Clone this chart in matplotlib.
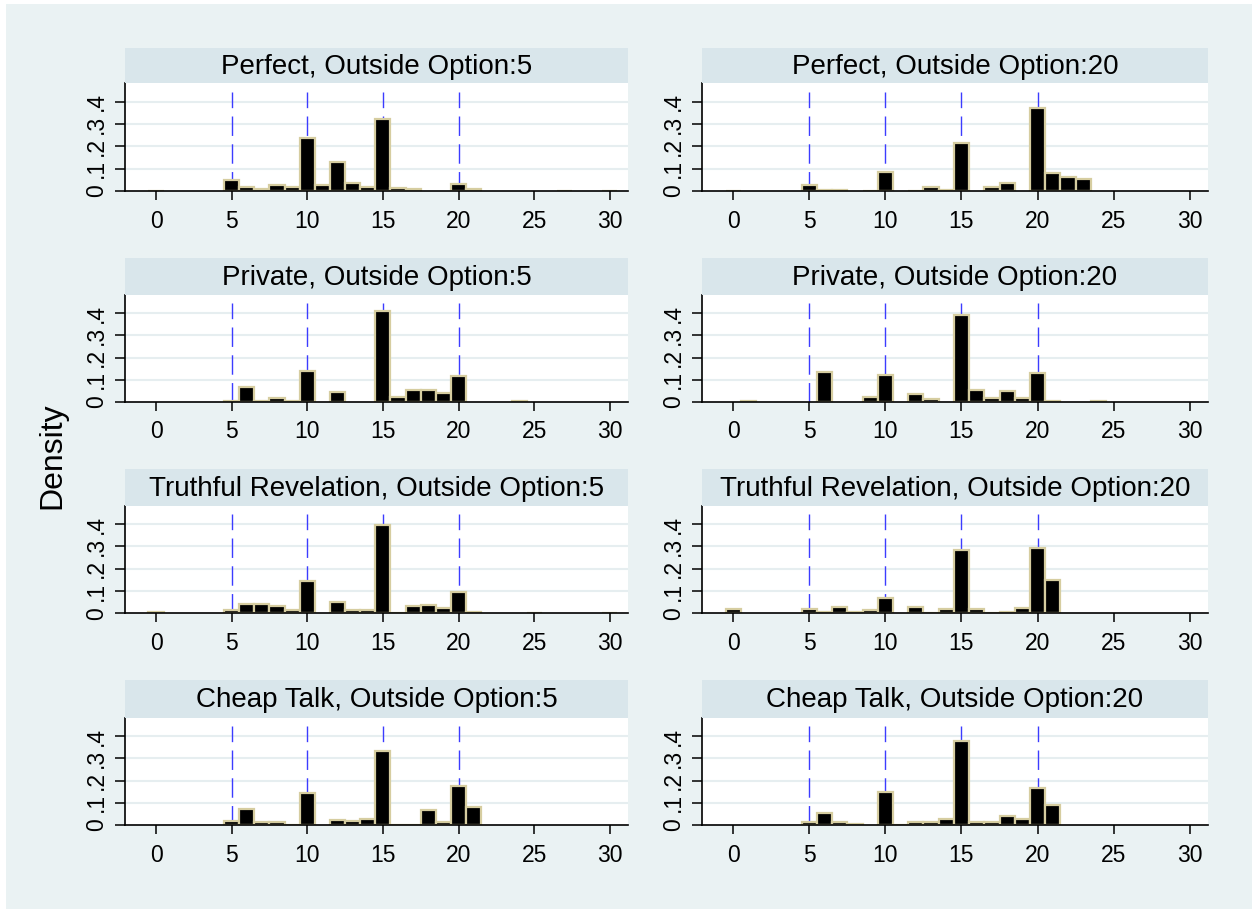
import matplotlib.pyplot as plt
import matplotlib.patches as mpatches
import numpy as np

plt.rcParams['font.family'] = ['Liberation Sans', 'DejaVu Sans']
plt.rcParams['lines.scale_dashes'] = False

# значения 0..30 (ширина бина = 1)
values = np.arange(31)

perfect_5 = [0.002, 0, 0, 0, 0, 0.048, 0.019, 0.007, 0.027, 0.019, 0.239, 0.027, 0.128, 0.037, 0.019,
             0.325, 0.015, 0.007, 0, 0, 0.030, 0.007, 0, 0, 0, 0, 0, 0.002, 0, 0, 0.002]
perfect_20 = [0.002, 0, 0, 0, 0, 0.025, 0.003, 0.003, 0, 0.002, 0.087, 0, 0.002, 0.018, 0.005,
              0.215, 0, 0.018, 0.034, 0, 0.372, 0.081, 0.061, 0.054, 0, 0, 0, 0, 0, 0, 0]
private_5 = [0, 0, 0, 0, 0, 0.005, 0.065, 0.005, 0.017, 0.005, 0.141, 0, 0.044, 0, 0,
             0.412, 0.023, 0.052, 0.052, 0.038, 0.115, 0, 0, 0, 0.004, 0, 0, 0, 0, 0, 0]
private_20 = [0, 0.003, 0, 0, 0, 0, 0.136, 0, 0, 0.021, 0.120, 0, 0.033, 0.014, 0,
              0.391, 0.052, 0.017, 0.047, 0.018, 0.129, 0.005, 0, 0, 0.003, 0, 0, 0, 0, 0, 0]
truthful_5 = [0.006, 0, 0, 0, 0, 0.016, 0.043, 0.043, 0.031, 0.013, 0.145, 0, 0.049, 0.016, 0.016,
              0.395, 0.003, 0.031, 0.036, 0.022, 0.097, 0.004, 0, 0, 0, 0.002, 0, 0, 0, 0, 0.002]
truthful_20 = [0.018, 0, 0, 0, 0, 0.018, 0.005, 0.027, 0.005, 0.016, 0.070, 0, 0.027, 0.002, 0.018,
               0.284, 0.018, 0.002, 0.005, 0.025, 0.291, 0.148, 0, 0, 0, 0, 0, 0, 0, 0, 0]
cheap_5 = [0, 0, 0, 0, 0, 0.016, 0.073, 0.015, 0.015, 0.002, 0.145, 0, 0.021, 0.016, 0.026,
           0.333, 0.002, 0.002, 0.067, 0.014, 0.174, 0.079, 0, 0, 0, 0, 0, 0, 0, 0, 0]
cheap_20 = [0, 0, 0, 0, 0, 0.015, 0.055, 0.014, 0.003, 0, 0.149, 0.002, 0.012, 0.015, 0.026,
            0.377, 0.015, 0.012, 0.040, 0.026, 0.166, 0.091, 0, 0, 0, 0, 0, 0, 0, 0, 0]

panels = [
    ('Perfect, Outside Option:5', perfect_5), ('Perfect, Outside Option:20', perfect_20),
    ('Private, Outside Option:5', private_5), ('Private, Outside Option:20', private_20),
    ('Truthful Revelation, Outside Option:5', truthful_5), ('Truthful Revelation, Outside Option:20', truthful_20),
    ('Cheap Talk, Outside Option:5', cheap_5), ('Cheap Talk, Outside Option:20', cheap_20),
]

xlines = [5, 10, 15, 20]
xticks = [0, 5, 10, 15, 20, 25, 30]
yticks = [0, 0.1, 0.2, 0.3, 0.4]
ytick_labels = ['0', '.1', '.2', '.3', '.4']

W, H = 1252, 909
bg = '#eaf2f3'
strip_color = '#d9e6eb'
bar_edge = '#d6cda0'
line_blue = '#3c3cff'

fig = plt.figure(figsize=(W / 100, H / 100), dpi=100, facecolor='white')
fig.patches.append(mpatches.Rectangle((6 / W, 0), 1, 1 - 4 / H, transform=fig.transFigure,
                                      facecolor=bg, edgecolor='none', zorder=-10))

# положение панелей в пикселях
col_x = [(125, 503), (702, 506)]
row_y = [(48.3, 83.3, 191), (257.7, 295, 401.7), (469, 505.7, 613.3), (680, 717.7, 825)]

for i, (title, dens) in enumerate(panels):
    r, c = divmod(i, 2)
    x0, w = col_x[c]
    s_top, p_top, p_bot = row_y[r]

    ax = fig.add_axes([x0 / W, 1 - p_bot / H, w / W, (p_bot - p_top) / H])
    ax.set_facecolor('white')

    dens = np.array(dens)
    mask = dens > 0
    ax.bar(values[mask], dens[mask], width=1, color='black', edgecolor=bar_edge,
           linewidth=1.6, zorder=3)
    for xv in xlines:
        ax.plot([xv, xv], [0, 0.445], color=line_blue, linewidth=1.0,
                dashes=(14, 6), zorder=2)

    ax.set_xlim(-2.05, 31.2)
    ax.set_ylim(0, 0.483)
    ax.set_xticks(xticks)
    ax.set_yticks(yticks)
    ax.set_yticklabels(ytick_labels, rotation=90, va='center')
    for yv in yticks[1:]:
        ax.axhline(yv, color='#e6eef0', linewidth=1.5, zorder=1)

    for side in ['top', 'right']:
        ax.spines[side].set_visible(False)
    for side in ['left', 'bottom']:
        ax.spines[side].set_linewidth(1.2)
        ax.spines[side].set_zorder(5)
    ax.tick_params(axis='x', length=6.5, width=1.1, pad=7, labelsize=16.5)
    ax.tick_params(axis='y', length=7, width=1.1, pad=5, labelsize=16.5)

    # полоса с заголовком
    sax = fig.add_axes([x0 / W, 1 - p_top / H, w / W, (p_top - s_top) / H])
    sax.set_facecolor(strip_color)
    sax.set_xticks([])
    sax.set_yticks([])
    for sp in sax.spines.values():
        sp.set_visible(False)
    sax.text(0.5, 0.46, title, ha='center', va='center', fontsize=20,
             transform=sax.transAxes)

fig.text(52 / W, 1 - 456 / H, 'Density', rotation=90, ha='center', va='center', fontsize=23)

plt.savefig('out.png', dpi=100, facecolor=fig.get_facecolor())
